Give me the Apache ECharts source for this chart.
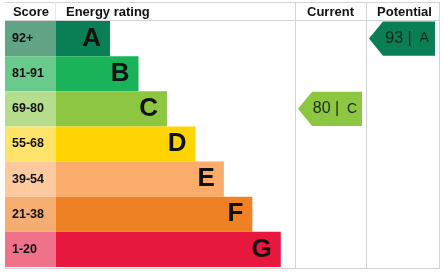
<!DOCTYPE html>
<html>
<head>
<meta charset="utf-8">
<script src="https://cdn.jsdelivr.net/npm/echarts@6/dist/echarts.min.js"></script>
<style>html,body{margin:0;padding:0;background:#fff;}#c{width:444px;height:275px;}</style>
</head>
<body>
<div id="c"></div>
<script>
// ---- data ----
const bands = ['A', 'B', 'C', 'D', 'E', 'F', 'G'];
const scoreRanges = ['92+', '81-91', '69-80', '55-68', '39-54', '21-38', '1-20'];
const barLengths = [1.9, 2.9, 3.9, 4.9, 5.9, 6.9, 7.9];
const headers = ['Score', 'Energy rating', 'Current', 'Potential'];
const currentRating = { score: 80, band: 'C' };
const potentialRating = { score: 93, band: 'A' };

// ---- styles ----
const bandColors = ['#0a7f55', '#1bb35a', '#8dc640', '#ffd400', '#fbac6b', '#ef8125', '#e8173e'];
const scoreColors = ['#62a486', '#6ac98d', '#b6dc8e', '#fee36b', '#fdcaa0', '#f5ad71', '#f0728a'];
const FONT = '"Liberation Sans", Arial, sans-serif';
const lineColor = '#d3d3d3';

const gridTop = 21, gridH = 246;
const grids = [
  { left: 5, top: gridTop, width: 51, height: gridH },
  { left: 56, top: gridTop, width: 239, height: gridH },
  { left: 295, top: gridTop, width: 71, height: gridH },
  { left: 366, top: gridTop, width: 73, height: gridH }
];
const xMax = [1, 8.4, 1, 1];

function catAxis(i) {
  return { type: 'category', gridIndex: i, data: bands, inverse: true, show: false };
}
function valAxis(i) {
  return { type: 'value', gridIndex: i, min: 0, max: xMax[i], show: false };
}

function arrowRenderer(rating) {
  return function (params, api) {
    const cs = params.coordSys;
    const yc = api.coord([0, api.value(0)])[1];
    const h = api.size([0, 1])[1] - 1;
    const x0 = cs.x + 3, x1 = cs.x + cs.width - 4, notch = 14;
    const bandIdx = bands.indexOf(rating.band);
    return {
      type: 'group',
      children: [
        {
          type: 'polygon',
          shape: { points: [[x0, yc], [x0 + notch, yc - h / 2], [x1, yc - h / 2], [x1, yc + h / 2], [x0 + notch, yc + h / 2]] },
          style: { fill: bandColors[bandIdx] }
        },
        {
          type: 'text',
          x: (x0 + notch + x1) / 2 - 2, y: yc,
          style: {
            text: '{n|' + rating.score + ' | } {b|' + rating.band + '}',
            rich: {
              n: { font: '16px ' + FONT, fill: '#1b2a17' },
              b: { font: '14px ' + FONT, fill: '#1b2a17' }
            },
            align: 'center', verticalAlign: 'middle'
          }
        }
      ]
    };
  };
}

function hline(y) {
  return { type: 'line', shape: { x1: 5, y1: y, x2: 440, y2: y }, style: { stroke: lineColor, lineWidth: 1 }, silent: true };
}
function vline(x, y1, y2, c) {
  return { type: 'line', shape: { x1: x, y1: y1, x2: x, y2: y2 }, style: { stroke: c || lineColor, lineWidth: 1 }, silent: true };
}
function headerText(text, x, align) {
  return { type: 'text', x: x, y: 12, style: { text: text, font: 'bold 13px ' + FONT, fill: '#111', align: align, verticalAlign: 'middle' } };
}

const chart = echarts.init(document.getElementById('c'), null, { renderer: 'canvas' });
chart.setOption({
  animation: false,
  grid: grids,
  xAxis: [valAxis(0), valAxis(1), valAxis(2), valAxis(3)],
  yAxis: [catAxis(0), catAxis(1), catAxis(2), catAxis(3)],
  series: [
    {
      type: 'bar', xAxisIndex: 0, yAxisIndex: 0,
      barCategoryGap: '0%',
      data: scoreRanges.map((s, i) => ({ value: 1, name: s, itemStyle: { color: scoreColors[i] } })),
      label: {
        show: true, position: 'insideLeft', distance: 7,
        formatter: p => scoreRanges[p.dataIndex],
        fontFamily: FONT, fontWeight: 'bold', fontSize: 12.5, color: '#111'
      }
    },
    {
      type: 'bar', xAxisIndex: 1, yAxisIndex: 1,
      barCategoryGap: '0%',
      data: barLengths.map((v, i) => ({ value: v, itemStyle: { color: bandColors[i] } })),
      label: {
        show: true, position: 'insideRight', distance: 9,
        formatter: p => bands[p.dataIndex],
        fontFamily: FONT, fontWeight: 'bold', fontSize: 26, color: '#111'
      }
    },
    {
      type: 'custom', xAxisIndex: 2, yAxisIndex: 2,
      data: [[currentRating.band, currentRating.score]],
      encode: { y: 0 },
      renderItem: arrowRenderer(currentRating)
    },
    {
      type: 'custom', xAxisIndex: 3, yAxisIndex: 3,
      data: [[potentialRating.band, potentialRating.score]],
      encode: { y: 0 },
      renderItem: arrowRenderer(potentialRating)
    }
  ],
  graphic: [
    hline(2.5), hline(20.5), hline(268.5),
    vline(55.5, 2, 20, '#e6e6e6'),
    vline(295.5, 2, 268), vline(366.5, 2, 268), vline(439.5, 2, 268),
    headerText(headers[0], 31, 'center'),
    headerText(headers[1], 66, 'left'),
    headerText(headers[2], 330.5, 'center'),
    headerText(headers[3], 404.5, 'center')
  ]
});
</script>
</body>
</html>
